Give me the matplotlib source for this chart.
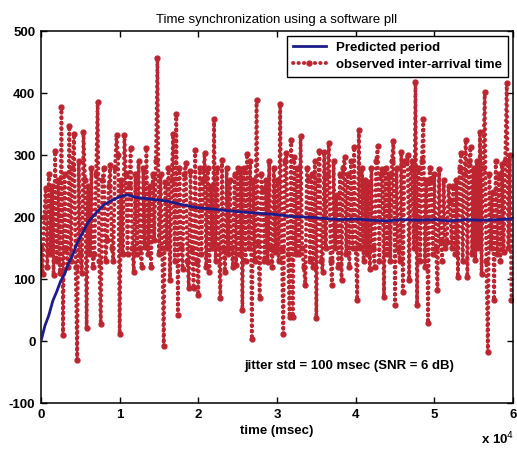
import numpy as np
import matplotlib
matplotlib.use("Agg")
import matplotlib.pyplot as plt

plt.rcParams['font.family'] = ['Liberation Sans', 'DejaVu Sans']
plt.rcParams['axes.unicode_minus'] = False

# observed inter-arrival times (msec), one per packet, nominal period 200 msec
period_ms = 200
observed = [
    150, 109, 200, 247, 120, 270, 140, 250, 106, 306, 130, 260, 110, 378, 10, 270, 150, 120, 347, 130,
    280, 334, 120, -30, 290, 140, 110, 338, 260, 22, 250, 140, 280, 120, 141, 270, 386, 130, 27, 260,
    280, 130, 163, 250, 284, 150, 130, 280, 332, 300, 11, 260, 140, 332, 270, 141, 250, 312, 150, 112,
    270, 140, 290, 150, 120, 280, 152, 312, 140, 250, 120, 270, 163, 290, 457, 140, 270, 150, -8, 257,
    150, 280, 98, 260, 334, 130, 367, 42, 280, 150, 117, 270, 288, 130, 85, 275, 150, 85, 308, 130,
    74, 280, 140, 260, 304, 120, 280, 112, 250, 150, 358, 130, 280, 150, 70, 292, 150, 112, 280, 140,
    260, 150, 120, 270, 123, 280, 140, 278, 50, 280, 130, 302, 150, 290, 3, 260, 130, 389, 160, 69,
    270, 246, 130, 260, 128, 290, 150, 120, 280, 144, 260, 130, 383, 150, 12, 290, 304, 140, 39, 325,
    39, 297, 141, 280, 140, 331, 150, 120, 90, 280, 260, 130, 270, 120, 290, 37, 260, 307, 130, 112,
    305, 150, 270, 320, 130, 90, 290, 150, 235, 120, 270, 98, 280, 297, 140, 270, 120, 290, 150, 313,
    150, 66, 340, 150, 280, 130, 260, 140, 257, 117, 280, 150, 120, 290, 314, 130, 270, 277, 71, 280,
    140, 270, 130, 290, 323, 58, 280, 150, 130, 305, 80, 290, 290, 300, 98, 280, 290, 150, 418, 58,
    280, 130, 290, 358, 120, 260, 29, 280, 262, 140, 270, 150, 83, 277, 160, 130, 260, 150, 160, 250,
    225, 150, 250, 140, 260, 103, 280, 303, 130, 270, 325, 103, 290, 313, 140, 280, 131, 290, 150, 338,
    109, 280, 402, 130, -17, 270, 150, 241, 66, 290, 140, 270, 130, 286, 144, 290, 416, 150, 300, 66,
]

# pll predicted period (msec)
pred_t = [0, 500, 1000, 1500, 2000, 2500, 3000, 3500, 4000, 4500, 5000, 6000, 7000, 8000,
          9000, 10000, 11000, 12000, 14000, 16000, 18000, 20000, 22000, 24000, 26000, 28000,
          30000, 32000, 34000, 36000, 38000, 40000, 42000, 44000, 46000, 48000, 50000, 52000,
          54000, 56000, 58000, 60000]
pred = [0, 25, 42, 65, 80, 97, 108, 126, 138, 156, 168, 192, 207, 220,
        227, 233, 236, 232, 229, 226, 220, 215, 213, 210, 208, 206,
        204, 201, 200, 198, 196, 197, 195, 194, 196, 195, 196, 194,
        196, 195, 196, 197]

t_obs = np.arange(len(observed)) * period_ms

fig = plt.figure(figsize=(5.17, 4.51), dpi=100)
ax = fig.add_axes([0.0793, 0.106, 0.913, 0.825])

ax.plot(t_obs, observed, color='#bd2630', linestyle=(0, (0.1, 1.3)), linewidth=2.8,
        marker='.', markersize=7, dash_capstyle='round',
        label='observed inter-arrival time', zorder=2)
ax.plot(pred_t, pred, color='#1c1c8a', linewidth=2.0, label='Predicted period', zorder=3)

ax.set_xlim(0, 60000)
ax.set_ylim(-100, 500)
ax.set_xticks(np.arange(0, 60001, 10000))
ax.set_xticklabels([str(i) for i in range(7)])
ax.set_yticks(np.arange(-100, 501, 100))
ax.tick_params(direction='in', top=True, right=True, length=4, width=1,
               labelsize=9.5, pad=4)
for lab in ax.get_xticklabels() + ax.get_yticklabels():
    lab.set_fontweight('bold')
for s in ax.spines.values():
    s.set_linewidth(1.1)

ax.set_title('Time synchronization using a software pll', fontsize=9.5, pad=6)
ax.set_xlabel('time (msec)', fontsize=9.5, fontweight='bold', labelpad=3)
fig.text(0.962, 0.008, r'x 10$^4$', fontsize=9.5, fontweight='bold', ha='center', va='bottom')

ax.text(25900, -40, 'jitter std = 100 msec (SNR = 6 dB)', fontsize=9.5,
        fontweight='bold', ha='left', va='center')

handles, labels = ax.get_legend_handles_labels()
leg = ax.legend(handles[::-1], labels[::-1], loc='upper right', fontsize=9.5,
                fancybox=False, edgecolor='black', framealpha=1,
                borderaxespad=0.35, handlelength=2.5, borderpad=0.45, labelspacing=0.35)
leg.get_frame().set_linewidth(1.0)
for txt in leg.get_texts():
    txt.set_fontweight('bold')

fig.savefig('out.png', dpi=100)
